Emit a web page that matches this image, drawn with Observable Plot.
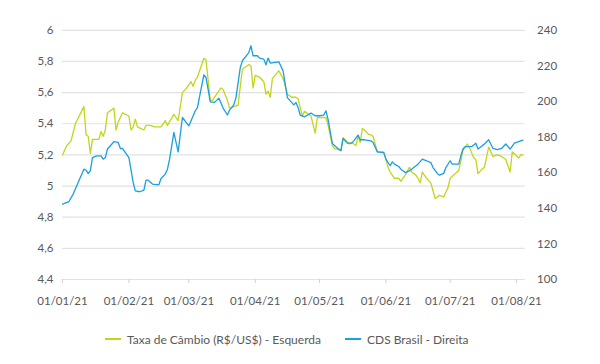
<!DOCTYPE html>
<html>
<head>
<meta charset="utf-8">
<script src="https://cdn.jsdelivr.net/npm/d3@7"></script>
<script src="https://cdn.jsdelivr.net/npm/@observablehq/plot@0.6"></script>
<style>
  body { margin: 0; background: #fff; font-family: Lato, sans-serif; }
  #chart svg { display: block; font-variant-numeric: proportional-nums; }
  .legend { display: flex; justify-content: flex-start; height: 38px; align-items: center; font-size: 12px; color: #595959; font-family: Lato, sans-serif; padding-left: 105px; box-sizing: border-box; }
  .legend .item { display: flex; align-items: center; }
  .legend .sw { display: inline-block; width: 16px; height: 2px; margin-right: 6px; }
</style>
</head>
<body>
<div id="chart"></div>
<div class="legend">
  <div class="item" style="width:240px"><span class="sw" style="background:#c2d51c"></span>Taxa de Câmbio (R$/US$) - Esquerda</div>
  <div class="item"><span class="sw" style="background:#1a9fe0"></span>CDS Brasil - Direita</div>
</div>
<script>
const greenDates = ["2021-01-01","2021-01-03","2021-01-05","2021-01-07","2021-01-11","2021-01-12","2021-01-13","2021-01-14","2021-01-15","2021-01-18","2021-01-19","2021-01-20","2021-01-21","2021-01-22","2021-01-25","2021-01-26","2021-01-27","2021-01-29","2021-02-01","2021-02-02","2021-02-03","2021-02-04","2021-02-05","2021-02-08","2021-02-09","2021-02-11","2021-02-13","2021-02-16","2021-02-18","2021-02-19","2021-02-22","2021-02-24","2021-02-26","2021-02-28","2021-03-02","2021-03-03","2021-03-04","2021-03-05","2021-03-08","2021-03-09","2021-03-11","2021-03-12","2021-03-16","2021-03-17","2021-03-19","2021-03-20","2021-03-22","2021-03-24","2021-03-25","2021-03-26","2021-03-29","2021-03-30","2021-03-31","2021-04-01","2021-04-03","2021-04-05","2021-04-06","2021-04-07","2021-04-08","2021-04-09","2021-04-12","2021-04-14","2021-04-16","2021-04-18","2021-04-20","2021-04-21","2021-04-23","2021-04-24","2021-04-27","2021-04-29","2021-04-30","2021-05-04","2021-05-05","2021-05-07","2021-05-08","2021-05-11","2021-05-12","2021-05-15","2021-05-16","2021-05-18","2021-05-19","2021-05-20","2021-05-21","2021-05-22","2021-05-24","2021-05-25","2021-05-26","2021-05-28","2021-05-31","2021-06-02","2021-06-03","2021-06-05","2021-06-07","2021-06-08","2021-06-10","2021-06-12","2021-06-13","2021-06-15","2021-06-16","2021-06-17","2021-06-18","2021-06-20","2021-06-22","2021-06-23","2021-06-24","2021-06-26","2021-06-28","2021-06-29","2021-06-30","2021-07-01","2021-07-05","2021-07-06","2021-07-07","2021-07-09","2021-07-10","2021-07-12","2021-07-13","2021-07-14","2021-07-16","2021-07-17","2021-07-19","2021-07-21","2021-07-23","2021-07-25","2021-07-27","2021-07-29","2021-07-30","2021-08-02","2021-08-03","2021-08-04"];
const greenValues = [5.20,5.26,5.29,5.40,5.51,5.33,5.32,5.21,5.30,5.30,5.35,5.32,5.36,5.47,5.50,5.36,5.41,5.47,5.45,5.36,5.38,5.43,5.38,5.36,5.39,5.39,5.38,5.38,5.42,5.39,5.46,5.42,5.60,5.63,5.67,5.64,5.68,5.70,5.82,5.81,5.55,5.55,5.63,5.62,5.55,5.50,5.51,5.52,5.64,5.75,5.78,5.77,5.63,5.71,5.70,5.67,5.59,5.61,5.57,5.69,5.74,5.69,5.59,5.57,5.57,5.56,5.45,5.48,5.45,5.34,5.44,5.44,5.39,5.26,5.24,5.23,5.31,5.27,5.28,5.26,5.32,5.28,5.37,5.36,5.33,5.33,5.32,5.22,5.22,5.12,5.09,5.05,5.05,5.03,5.07,5.12,5.09,5.07,5.05,5.02,5.09,5.05,5.02,4.97,4.92,4.94,4.93,4.96,4.99,5.05,5.10,5.16,5.23,5.27,5.25,5.18,5.17,5.08,5.11,5.12,5.25,5.19,5.20,5.19,5.17,5.09,5.22,5.18,5.20,5.20];

const blueDates = ["2021-01-01","2021-01-04","2021-01-06","2021-01-07","2021-01-09","2021-01-11","2021-01-12","2021-01-13","2021-01-14","2021-01-15","2021-01-17","2021-01-19","2021-01-20","2021-01-21","2021-01-22","2021-01-25","2021-01-27","2021-01-28","2021-01-29","2021-02-01","2021-02-03","2021-02-04","2021-02-06","2021-02-08","2021-02-09","2021-02-10","2021-02-12","2021-02-15","2021-02-16","2021-02-18","2021-02-19","2021-02-20","2021-02-22","2021-02-24","2021-02-26","2021-03-01","2021-03-04","2021-03-05","2021-03-08","2021-03-09","2021-03-11","2021-03-13","2021-03-15","2021-03-17","2021-03-19","2021-03-20","2021-03-22","2021-03-23","2021-03-25","2021-03-26","2021-03-29","2021-03-30","2021-03-31","2021-04-02","2021-04-03","2021-04-05","2021-04-06","2021-04-07","2021-04-08","2021-04-12","2021-04-14","2021-04-16","2021-04-19","2021-04-20","2021-04-21","2021-04-22","2021-04-24","2021-04-27","2021-04-29","2021-05-01","2021-05-03","2021-05-04","2021-05-05","2021-05-07","2021-05-09","2021-05-11","2021-05-12","2021-05-14","2021-05-16","2021-05-17","2021-05-19","2021-05-20","2021-05-22","2021-05-25","2021-05-26","2021-05-28","2021-05-31","2021-06-01","2021-06-03","2021-06-04","2021-06-05","2021-06-07","2021-06-08","2021-06-10","2021-06-12","2021-06-14","2021-06-16","2021-06-18","2021-06-20","2021-06-22","2021-06-23","2021-06-25","2021-06-26","2021-06-28","2021-06-29","2021-07-01","2021-07-02","2021-07-05","2021-07-06","2021-07-07","2021-07-08","2021-07-11","2021-07-13","2021-07-14","2021-07-16","2021-07-17","2021-07-19","2021-07-21","2021-07-23","2021-07-25","2021-07-27","2021-07-29","2021-07-31","2021-08-02","2021-08-04"];
const blueValues = [142.4,143.8,148,150.8,156.4,162,161.4,159.5,161,168.5,169.5,169.5,167.6,168.5,173.3,177.4,177,173.6,173.6,168.5,154.5,149.8,149.3,150.2,155.8,155.8,153.6,153.2,156.7,159.2,162,167.6,182.6,171.7,191,186.3,194.8,196.6,215,213.5,199.8,199.5,201.9,196.3,192.4,195.2,198.1,202.2,219,222.9,227.5,231.3,225.7,225.7,224.4,223.8,220.6,224.4,221.6,222.3,217.2,202.2,198.1,199.4,196.6,192.4,191.4,193.5,192,192,192.4,194.8,190,176.4,174.2,172.3,179.2,176.6,176.6,177.9,181.1,178.5,178.5,177.9,177,171.7,171.3,167.6,163.9,166.1,164.8,163.5,162,160.1,161,162.9,164.8,167.6,166.7,165.7,162.9,159.6,158.6,159.6,162.9,166.7,164.8,164.8,169.5,173.3,174.6,174.6,176.6,173.3,175.2,176.1,178.5,173.6,172.9,173.6,176.1,173.3,176.6,177.4,178.3];

const leftTicks = [4.4, 4.6, 4.8, 5, 5.2, 5.4, 5.6, 5.8, 6];
const rightTicks = [100, 120, 140, 160, 180, 200, 220, 240];
const xTicks = ["2021-01-01","2021-02-01","2021-03-01","2021-04-01","2021-05-01","2021-06-01","2021-07-01","2021-08-01"];

const greenColor = "#c2d51c";
const blueColor = "#1a9fe0";
const textColor = "#595959";

const r2l = d3.scaleLinear([100, 240], [4.4, 6]);
const green = greenDates.map((d, i) => ({date: new Date(d), value: greenValues[i]}));
const blue = blueDates.map((d, i) => ({date: new Date(d), value: r2l(blueValues[i])}));
const fmt = d3.utcFormat("%d/%m/%y");

const chart = Plot.plot({
  width: 600,
  height: 320,
  marginLeft: 62,
  marginRight: 75.4,
  marginTop: 29.8,
  marginBottom: 41,
  style: {fontFamily: "Lato, sans-serif", fontSize: "11px", background: "#fff"},
  x: {type: "utc", domain: [new Date("2021-01-01"), new Date("2021-08-05")]},
  y: {domain: [4.4, 6]},
  marks: [
    Plot.ruleY(leftTicks, {stroke: "#e2e2e2", strokeWidth: 1.2}),
    Plot.lineY(green, {x: "date", y: "value", stroke: greenColor, strokeWidth: 1.3}),
    Plot.lineY(blue, {x: "date", y: "value", stroke: blueColor, strokeWidth: 1.3}),
    Plot.axisX(xTicks.map(d => new Date(d)), {tickFormat: fmt, tickSize: 4, tickPadding: 13, stroke: "#cfcfcf", fill: textColor, fontSize: 11.5, label: null}),
    Plot.axisY(leftTicks, {anchor: "left", tickSize: 0, tickPadding: 9, fill: textColor, fontSize: 11.5, label: null,
      tickFormat: d => String(+d.toFixed(1)).replace(".", ",")}),
    Plot.axisY(rightTicks.map(r2l), {anchor: "right", tickSize: 0, tickPadding: 12, fill: textColor, fontSize: 11.5, label: null,
      tickFormat: d => String(Math.round(r2l.invert(d)))})
  ]
});
document.getElementById("chart").appendChild(chart);
</script>
</body>
</html>
